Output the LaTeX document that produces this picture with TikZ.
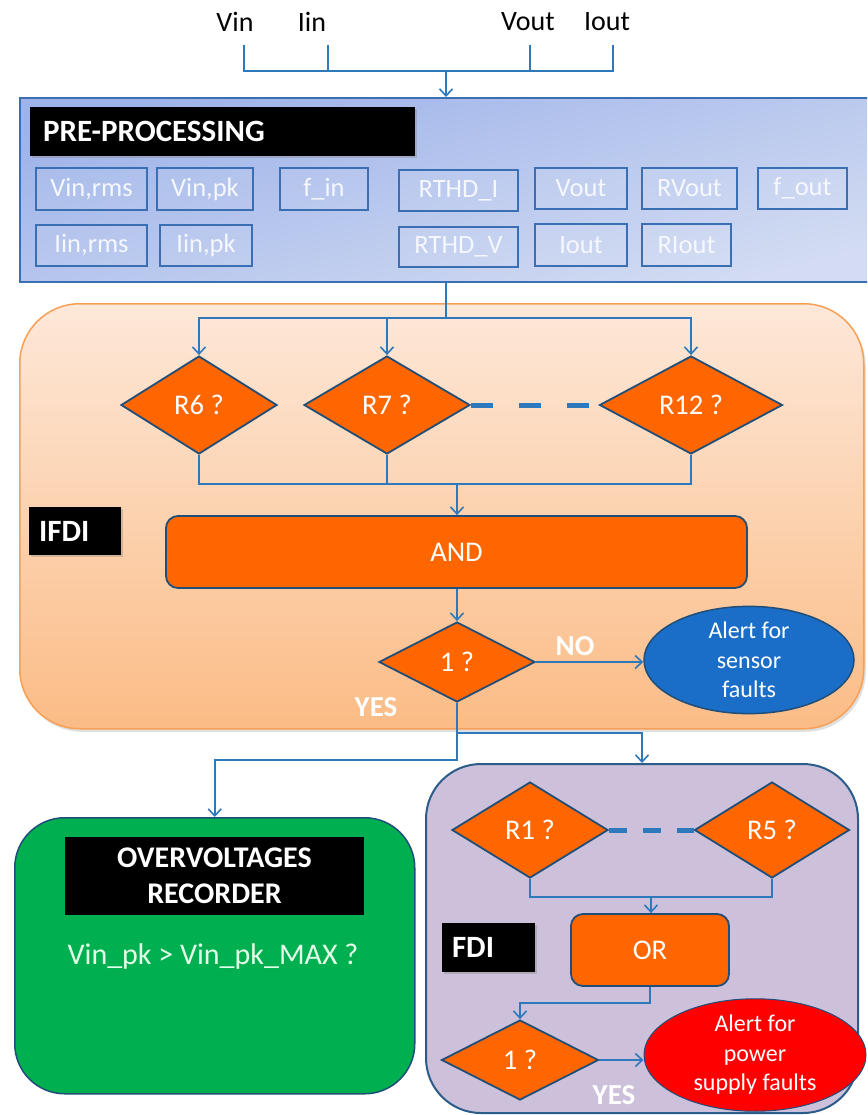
\documentclass[tikz,border=0pt]{standalone}
\usepackage{fontspec}
\setmainfont{Carlito}
\usetikzlibrary{shapes.geometric,arrows.meta,shadows}

\definecolor{wireblue}{HTML}{2E78BC}
\definecolor{edgeblue}{HTML}{1F4E79}
\definecolor{boxblue}{HTML}{3A6FB4}
\definecolor{preA}{HTML}{9EB3E9}
\definecolor{preB}{HTML}{D3DCF2}
\definecolor{ifdiA}{HTML}{FDE8D9}
\definecolor{ifdiB}{HTML}{FBBC86}
\definecolor{ifdiEdge}{HTML}{F7A055}
\definecolor{logicorange}{HTML}{FF6600}
\definecolor{sensorblue}{HTML}{1B6EC7}
\definecolor{recgreen}{HTML}{00B050}
\definecolor{fdipurple}{HTML}{CCC0DA}
\definecolor{fdiedge}{HTML}{2B5C8A}
\definecolor{alertred}{HTML}{FF0000}
\definecolor{mint}{HTML}{E2FFE8}
\definecolor{paletext}{HTML}{F6F8FF}

\tikzset{
  wire/.style={draw=wireblue, line width=1.6pt},
  arr/.style={wire, -{Straight Barb[length=7pt,width=13pt]}},
  inlabel/.style={font=\fontsize{28}{32}\selectfont, inner sep=0pt},
  sigbox/.style={draw=boxblue, line width=1.3pt, fill=white, fill opacity=0.08,
    text opacity=1, text=paletext, font=\fontsize{26.5}{30}\selectfont, inner sep=0pt},
  decision/.style={shape=diamond, draw=edgeblue, line width=1.8pt, fill=logicorange,
    text=white, font=\fontsize{28.5}{32}\selectfont, inner sep=0pt},
  gate/.style={draw=edgeblue, line width=1.8pt, fill=logicorange, rounded corners=12pt,
    text=white, font=\fontsize{28.5}{32}\selectfont, inner sep=0pt},
  alert/.style={shape=ellipse, text=white, align=center,
    font=\fontsize{24}{29.5}\selectfont, inner sep=0pt},
  tag/.style={fill=black, text=white, font=\bfseries\fontsize{31}{36}\selectfont,
    inner sep=0pt, drop shadow={opacity=0.35, shadow xshift=2pt, shadow yshift=-2pt}},
  answer/.style={text=white, font=\bfseries\fontsize{29}{32}\selectfont, inner sep=0pt},
}

\begin{document}
\begin{tikzpicture}[x=1pt, y=-1pt]
\useasboundingbox (0,0) rectangle (867,1115);
\clip (0,0) rectangle (867,1115);

% ---------- input signals ----------
\node[inlabel] (vin)  at (235,22) {Vin};
\node[inlabel] (iin)  at (312,22) {Iin};
\node[inlabel] (vout) at (528,22) {Vout};
\node[inlabel] (iout) at (607,22) {Iout};
\coordinate (t1) at (244,45);
\coordinate (t2) at (328,45);
\coordinate (t3) at (530,45);
\coordinate (t4) at (613,45);
\coordinate (bus) at (446,71);

% ---------- pre-processing block ----------
\node[draw=boxblue, line width=2pt, top color=preA, bottom color=preB, shading angle=15,
      minimum width=870pt, minimum height=184pt, anchor=north west, inner sep=0pt]
      (pre) at (19,97) {};
\node[tag, minimum width=385pt, minimum height=49pt, text width=359pt, align=left,
      inner xsep=13pt, anchor=north west] (pptag) at (30,107) {PRE-PROCESSING};

\node[sigbox, minimum width=111pt, minimum height=42pt] (s1) at (91.5,189) {Vin,rms};
\node[sigbox, minimum width=96pt,  minimum height=42pt] (s2) at (205,189) {Vin,pk};
\node[sigbox, minimum width=88pt,  minimum height=42pt] (s3) at (324,189) {f\_in};
\node[sigbox, minimum width=119pt, minimum height=41pt] (s4) at (458.5,190.5) {RTHD\_I};
\node[sigbox, minimum width=92pt,  minimum height=41pt] (s5) at (581,188.5) {Vout};
\node[sigbox, minimum width=95pt,  minimum height=41pt] (s6) at (689.5,188.5) {RVout};
\node[sigbox, minimum width=89pt,  minimum height=41pt] (s7) at (802.5,188.5) {f\_out};
\node[sigbox, minimum width=111pt, minimum height=41pt] (s8) at (91.5,245.5) {Iin,rms};
\node[sigbox, minimum width=92pt,  minimum height=41pt] (s9) at (206,245.5) {Iin,pk};
\node[sigbox, minimum width=119pt, minimum height=40pt] (s10) at (458.5,247) {RTHD\_V};
\node[sigbox, minimum width=92pt,  minimum height=42pt] (s11) at (581,245) {Iout};
\node[sigbox, minimum width=89pt,  minimum height=42pt] (s12) at (686.5,245) {RIout};

% ---------- IFDI block ----------
\node[draw=ifdiEdge, line width=1.5pt, top color=ifdiA, bottom color=ifdiB,
      rounded corners=60pt, minimum width=844pt, minimum height=425pt,
      anchor=north west, inner sep=0pt,
      drop shadow={opacity=0.25, shadow xshift=2pt, shadow yshift=-3pt}]
      (ifdi) at (19,303) {};
\node[tag, minimum width=92pt, minimum height=48pt, text width=72pt, align=left,
      inner xsep=10pt] (ifditag) at (75,531) {IFDI};

\node[decision, minimum width=156pt, minimum height=98pt] (r6)  at (199,405) {R6 ?};
\node[decision, minimum width=166pt, minimum height=98pt] (r7)  at (387,405) {R7 ?};
\node[decision, minimum width=183pt, minimum height=98pt] (r12) at (691,405) {R12 ?};
\node[gate, minimum width=581pt, minimum height=72pt] (and) at (456.5,552) {AND};
\node[decision, minimum width=156pt, minimum height=80pt] (one1) at (457,662) {1 ?};
\node[alert, draw=edgeblue, line width=1.5pt, fill=sensorblue,
      minimum width=210pt, minimum height=105pt] (alert1) at (749,660)
      {Alert for\\sensor\\faults};
\node[answer] (no1)  at (575,646) {NO};
\node[answer] (yes1) at (376,707) {YES};

% ---------- overvoltages recorder ----------
\node[draw=edgeblue, line width=1.5pt, fill=recgreen, rounded corners=50pt,
      minimum width=400pt, minimum height=276pt, anchor=north west, inner sep=0pt]
      (rec) at (14,817) {};
\node[fill=black, text=white, inner sep=0pt, minimum width=299pt, minimum height=78pt,
      align=center, font=\bfseries\fontsize{30}{36}\selectfont] (rectag) at (214.5,876)
      {OVERVOLTAGES\\RECORDER};
\node[text=mint, font=\fontsize{30}{34}\selectfont, inner sep=0pt] (rectest) at (213,956)
      {Vin\_pk > Vin\_pk\_MAX ?};

% ---------- FDI block ----------
\node[draw=fdiedge, line width=2pt, fill=fdipurple, rounded corners=55pt,
      minimum width=432pt, minimum height=349pt, anchor=north west, inner sep=0pt]
      (fdi) at (425,763) {};
\node[tag, minimum width=93pt, minimum height=49pt, text width=73pt, align=left,
      inner xsep=10pt] (fditag) at (488.5,947.5) {FDI};

\node[decision, minimum width=156pt, minimum height=96pt] (r1) at (530,830) {R1 ?};
\node[decision, minimum width=155pt, minimum height=96pt] (r5) at (772,830) {R5 ?};
\node[gate, minimum width=158pt, minimum height=72pt] (or) at (650,950) {OR};
\node[decision, minimum width=157pt, minimum height=80pt] (one2) at (520,1060) {1 ?};
\node[alert, draw=edgeblue, line width=1pt, fill=alertred,
      minimum width=222pt, minimum height=105pt] (alert2) at (755,1055)
      {Alert for\\power\\supply faults};
\node[answer] (yes2) at (614,1095) {YES};

% ---------- connectors ----------
\draw[wire] (t1) |- (t4 |- bus) -- (t4);
\draw[wire] (t2) -- (t2 |- bus);
\draw[wire] (t3) -- (t3 |- bus);
\draw[arr] (bus) -- (pre.north -| bus);

\coordinate (split) at (446,318);
\draw[wire] (pre.south -| split) -- (split);
\draw[arr] (split) -| (r6.north);
\draw[arr] (split) -| (r12.north);
\draw[arr] (r7.north |- split) -- (r7.north);

\coordinate (merge) at (457,484);
\draw[wire] (r6.south) |- (r12.south |- merge) -- (r12.south);
\draw[wire] (r7.south) -- (r7.south |- merge);
\draw[arr] (merge) -- (and.north -| merge);
\draw[arr] (and.south -| one1.north) -- (one1.north);
\draw[arr] (one1.east) -- (one1.east -| alert1.west);

\draw[wireblue, line width=5pt, dash pattern=on 22pt off 26pt] (r7.east) -- (r12.west);
\draw[wireblue, line width=5pt, dash pattern=on 18pt off 16pt] (r1.east) -- (r5.west);

\coordinate (k1) at (457,733);
\coordinate (k2) at (457,760);
\draw[arr] (one1.south) -- (k1) -| (fdi.north);
\draw[arr] (k1) -- (k2) -| (rec.north);

\coordinate (merge2) at (651,897);
\draw[wire] (r1.south) |- (r5.south |- merge2) -- (r5.south);
\draw[arr] (merge2) -- (or.north -| merge2);
\coordinate (k3) at (650,1003);
\draw[arr] (or.south) -- (k3) -| (one2.north);
\draw[arr] (one2.east) -- (one2.east -| alert2.west);
\end{tikzpicture}
\end{document}
